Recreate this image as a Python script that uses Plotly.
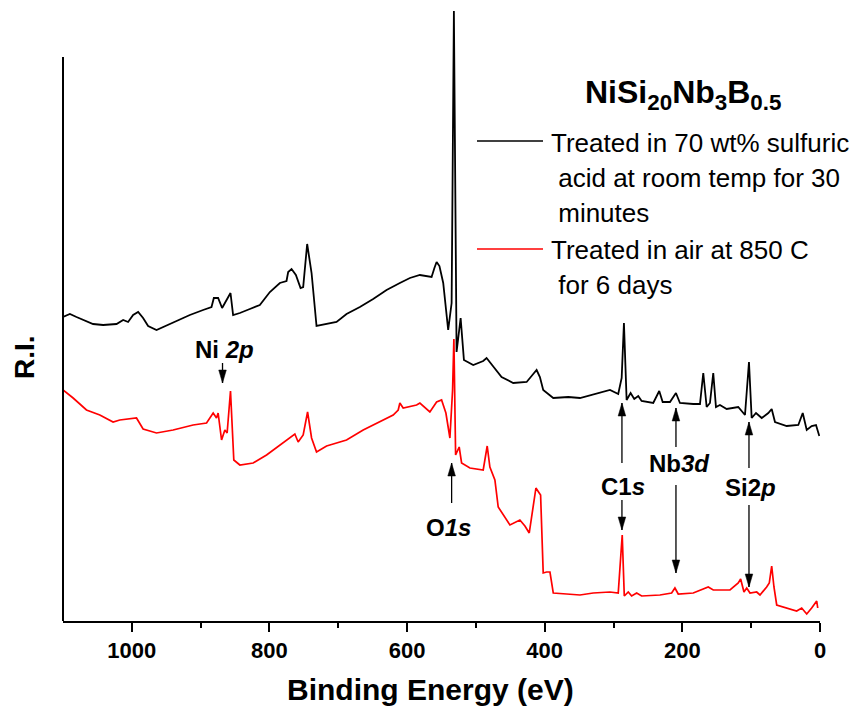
import plotly.graph_objects as go

# Binding energy (eV) and relative intensity
be_acid = [1100, 1090, 1080.4, 1070.8, 1056.3, 1041.7, 1022.2, 1012.6, 1005.4, 998.1,
           990.8, 983.6, 976.3, 964.1, 954.5, 935.0, 915.7, 896.4, 884.2, 880.8,
           874.6, 868.8, 862.4, 856.6, 852.8, 843.0, 828.5, 814.0, 799.4, 784.9,
           775.2, 772.8, 767.9, 765.6, 761.6, 754.8, 751.0, 745.2, 738.8, 731.6, 717.0, 702.5,
           688.0, 668.6, 649.3, 629.8, 610.5, 595.9, 581.4, 564.4, 560.3, 557.1, 553.0, 547.5,
           540.3, 535.3, 532.0, 528.1, 522.2, 517.4, 503.9, 489.4, 484.5, 479.7, 474.9, 462.7,
           445.8, 426.3, 416.7, 411.8, 407.0, 402.2, 387.6, 365.8, 348.8, 322.2, 305.2, 293.2,
           288.2, 284.9, 281.0, 275.2, 269.9, 264.1, 259.2, 242.3, 233.6, 228.6,
           218.0, 209.3, 203.5, 184.2, 174.4, 169.6, 164.7, 159.9, 155.1, 151.2,
           145.4, 135.6, 118.8, 109.0, 103.2, 99.3, 93.0, 84.7, 75.1, 70.2,
           65.4, 48.4, 31.5, 25.1, 19.3, 12.1, 5.8, 1.0]
ri_acid = [304, 307, 304, 301, 297, 296, 297, 301, 299, 306,
           309, 303, 295, 291, 294, 300, 306, 311, 314, 323,
           323, 313, 321, 328, 306, 308, 312, 316, 329, 338,
           340, 349, 352, 350, 346, 333, 334, 377, 348, 295, 297, 299,
           307, 314, 322, 331, 338, 343, 346, 344, 353, 359, 355, 338,
           291, 318, 610, 269, 303, 261, 256, 260, 263, 259, 254, 244,
           238, 239, 247, 251, 244, 231, 223, 224, 223, 228, 231, 227,
           243, 298, 221, 228, 222, 225, 220, 218, 230, 219,
           219, 228, 218, 217, 217, 248, 214, 218, 248, 214,
           216, 212, 214, 206, 259, 203, 208, 203, 208, 212,
           199, 195, 196, 208, 191, 195, 196, 185]

be_air = [1100, 1085.3, 1065.9, 1046.5, 1027.2, 1017.5, 993.2, 983.6, 964.1, 940.0,
          910.9, 891.4, 881.8, 876.9, 874.6, 869.6, 864.8, 861.5, 856.6, 851.8,
          843.0, 823.7, 804.2, 784.9, 770.4, 763.1, 758.3, 751.0, 744.6, 738.8,
          731.6, 717.0, 712.2, 688.0, 663.8, 639.5, 620.2, 612.9, 610.5, 605.7,
          586.2, 581.4, 566.9, 557.1, 549.9, 543.6, 537.8, 533.9, 532.0, 529.5,
          524.3, 520.8, 508.7, 489.4, 483.6, 479.7, 472.4, 467.6, 460.3, 450.6,
          436.1, 428.8, 422.5, 416.7, 412.8, 408.0, 406.0, 402.2, 397.2, 392.4, 387.6,
          368.2, 348.8, 329.5, 305.2, 293.2, 287.4, 284.4, 278.6, 273.7, 266.4,
          259.2, 232.6, 215.6, 210.8, 206.0, 184.2, 162.4, 155.1, 130.8, 118.8,
          115.3, 110.5, 106.5, 101.7, 92.0, 87.2, 77.5, 73.7, 70.2, 66.9,
          62.9, 48.4, 33.9, 26.6, 19.3, 12.1, 4.8, 3.3]
ri_air = [231, 223, 211, 206, 199, 201, 203, 192, 188, 191,
          196, 198, 208, 203, 208, 181, 191, 188, 230, 161,
          156, 158, 166, 176, 183, 187, 179, 186, 209, 183,
          169, 175, 176, 181, 191, 199, 206, 211, 218, 213,
          216, 218, 209, 219, 221, 208, 183, 231, 282, 166,
          174, 158, 153, 151, 175, 154, 141, 114, 106, 96,
          101, 95, 88, 114, 133, 128, 126, 48, 49, 49, 28,
          27, 26, 28, 29, 28, 86, 25, 29, 25, 28,
          25, 26, 28, 33, 27, 28, 34, 31, 31, 38,
          42, 29, 33, 28, 29, 26, 34, 38, 55, 34,
          16, 13, 10, 13, 7, 13, 20, 13]

x_ticks = [1000, 800, 600, 400, 200, 0]
x_tick_labels = ["1000", "800", "600", "400", "200", "0"]
legend_acid = ["Treated in 70 wt% sulfuric", " acid at room temp for 30", " minutes"]
legend_air = ["Treated in air at 850 C", " for 6 days"]

FONT = "Liberation Sans"

fig = go.Figure()
fig.add_trace(go.Scatter(x=be_acid, y=ri_acid, mode="lines",
                         line=dict(color="black", width=1.8), showlegend=False))
fig.add_trace(go.Scatter(x=be_air, y=ri_air, mode="lines",
                         line=dict(color="red", width=1.7), showlegend=False))

fig.update_layout(
    width=852, height=708,
    margin=dict(l=63, r=32, t=10, b=87),
    paper_bgcolor="white", plot_bgcolor="white",
    font=dict(family=FONT, color="black"),
    xaxis=dict(range=[1100, 0], showline=True, linecolor="black", linewidth=2,
               ticks="outside", ticklen=9, tickwidth=2, tickcolor="black",
               tickvals=x_ticks, ticktext=x_tick_labels,
               tickfont=dict(family=FONT, size=22, weight="bold", color="black"),
               minor=dict(tickvals=[900, 700, 500, 300, 100], ticks="outside",
                          ticklen=5, tickwidth=2, tickcolor="black"),
               showgrid=False, zeroline=False),
    yaxis=dict(range=[0, 611], showline=False, showticklabels=False, ticks="",
               showgrid=False, zeroline=False),
)

shapes = []
# left spine (shorter than the plot area)
shapes.append(dict(type="line", xref="paper", yref="y", x0=0, x1=0, y0=0, y1=564,
                   line=dict(color="black", width=2)))
# legend samples
shapes.append(dict(type="line", xref="paper", yref="paper", x0=0.5469, x1=0.6341,
                   y0=0.7856, y1=0.7856, line=dict(color="black", width=1.6)))
shapes.append(dict(type="line", xref="paper", yref="paper", x0=0.5469, x1=0.6341,
                   y0=0.6088, y1=0.6088, line=dict(color="red", width=1.6)))

def arrow(x, y_tail, y_head):
    shapes.append(dict(type="line", xref="x", yref="y", x0=x, x1=x, y0=y_tail, y1=y_head,
                       line=dict(color="black", width=1.3)))
    if y_head > y_tail:
        path = "M0,0 L-3.8,-13 L3.8,-13 Z"
    else:
        path = "M0,0 L-3.8,13 L3.8,13 Z"
    shapes.append(dict(type="path", xref="x", yref="y", xsizemode="pixel", ysizemode="pixel",
                       xanchor=x, yanchor=y_head, path=path,
                       fillcolor="black", line=dict(color="black", width=0.5)))

arrow(868.2, 258, 238)   # Ni 2p
arrow(535.3, 118, 158)   # O 1s
arrow(287.8, 158, 218)   # C 1s up
arrow(287.8, 121, 91)    # C 1s down
arrow(209.3, 174, 213)   # Nb 3d up
arrow(209.3, 136, 48)    # Nb 3d down
arrow(103.2, 153, 199)   # Si 2p up
arrow(103.2, 116, 34)    # Si 2p down

ann = []
lab_font = dict(family=FONT, size=24, color="black")
for txt, x, y in [("<b>Ni <i>2p</i></b>", 864.8, 272),
                  ("<b>O<i>1s</i></b>", 539.2, 94),
                  ("<b>C1<i>s</i></b>", 286.3, 135),
                  ("<b>Nb<i>3d</i></b>", 203.5, 158),
                  ("<b>Si2<i>p</i></b>", 101.7, 134)]:
    ann.append(dict(text=txt, x=x, y=y, xref="x", yref="y", showarrow=False,
                    xanchor="center", yanchor="middle", font=lab_font))

leg_font = dict(family=FONT, size=26, color="black")
for txt, y in zip(legend_acid + legend_air, [0.7823, 0.7250, 0.6678, 0.6072, 0.5499]):
    ann.append(dict(text=txt, x=0.6420, y=y, xref="paper", yref="paper", showarrow=False,
                    xanchor="left", yanchor="middle", font=leg_font))

ann.append(dict(text="<b>NiSi<sub>20</sub>Nb<sub>3</sub>B<sub>0.5</sub></b>",
                x=0.8203, y=0.8620, xref="paper", yref="paper", showarrow=False,
                xanchor="center", yanchor="middle", font=dict(family=FONT, size=32)))
ann.append(dict(text="<b>Binding Energy (eV)</b>", x=0.4861, y=-0.1129,
                xref="paper", yref="paper", showarrow=False,
                xanchor="center", yanchor="middle", font=dict(family=FONT, size=30)))
ann.append(dict(text="<b>R.I.</b>", x=-0.0502, y=0.4321, xref="paper", yref="paper",
                showarrow=False, textangle=-90, xanchor="center", yanchor="middle",
                font=dict(family=FONT, size=28)))

fig.update_layout(shapes=shapes, annotations=ann)
fig.write_html("out.html")
